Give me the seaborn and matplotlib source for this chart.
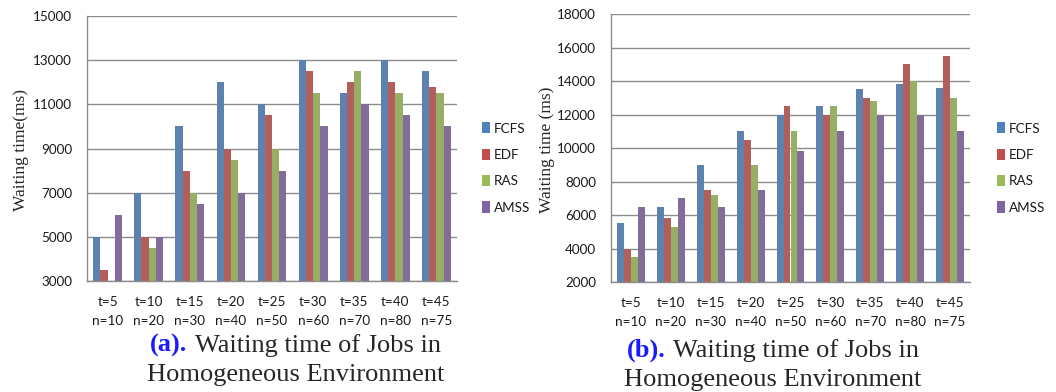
"""Waiting time of jobs: two grouped bar charts side by side."""

import pandas as pd
import matplotlib
matplotlib.use('Agg')
import matplotlib.pyplot as plt
from matplotlib.patches import Patch
import seaborn as sns

# categories
groups = ['t=5\nn=10', 't=10\nn=20', 't=15\nn=30', 't=20\nn=40', 't=25\nn=50',
          't=30\nn=60', 't=35\nn=70', 't=40\nn=80', 't=45\nn=75']
algs = ['FCFS', 'EDF', 'RAS', 'AMSS']
colors = ['#4F81BD', '#C0504D', '#9BBB59', '#8064A2']

# panel (a)
a_fcfs = [5000, 7000, 10000, 12000, 11000, 13000, 11500, 13000, 12500]
a_edf = [3500, 5000, 8000, 9000, 10500, 12500, 12000, 12000, 11800]
a_ras = [3000, 4500, 7000, 8500, 9000, 11500, 12500, 11500, 11500]
a_amss = [6000, 5000, 6500, 7000, 8000, 10000, 11000, 10500, 10000]

# panel (b)
b_fcfs = [5500, 6500, 9000, 11000, 12000, 12500, 13500, 13800, 13600]
b_edf = [4000, 5800, 7500, 10500, 12500, 12000, 13000, 15000, 15500]
b_ras = [3500, 5300, 7200, 9000, 11000, 12500, 12800, 14000, 13000]
b_amss = [6500, 7000, 6500, 7500, 9800, 11000, 12000, 12000, 11000]

a_ticks = [3000, 5000, 7000, 9000, 11000, 13000, 15000]
b_ticks = [2000, 4000, 6000, 8000, 10000, 12000, 14000, 16000, 18000]

TICK_FONT = 'Lato'
SERIF = 'Liberation Serif'
GRID = '#8c8c8c'
TXT = '#1a1a1a'


def to_long(series):
    rows = []
    for alg, vals in zip(algs, series):
        for g, v in zip(groups, vals):
            rows.append({'group': g, 'alg': alg, 'value': v})
    return pd.DataFrame(rows)


def draw_panel(fig, rect, df, yticks, ylabel, label_x, legend_x):
    ax = fig.add_axes(rect)
    sns.barplot(data=df, x='group', y='value', hue='alg', order=groups,
                hue_order=algs, palette=colors, width=0.7, linewidth=0,
                errorbar=None, legend=False, ax=ax, zorder=2)
    ax.set_ylim(yticks[0], yticks[-1])
    ax.set_xlim(-0.5, len(groups) - 0.5)
    ax.set_yticks(yticks)
    ax.set_yticklabels([str(t) for t in yticks])
    ax.yaxis.grid(True, color=GRID, lw=1, zorder=0)
    ax.set_axisbelow(True)
    for s in ['top', 'right']:
        ax.spines[s].set_visible(False)
    for s in ['left', 'bottom']:
        ax.spines[s].set_color(GRID)
        ax.spines[s].set_linewidth(1)
    ax.set_xlabel('')
    ax.set_ylabel('')
    ax.tick_params(axis='y', length=3.6, color=GRID, pad=7, labelsize=9.7,
                   labelcolor=TXT)
    ax.tick_params(axis='x', which='major', length=0, pad=11, labelsize=9.7,
                   labelcolor=TXT)
    ax.set_xticks([i - 0.5 for i in range(len(groups) + 1)], minor=True)
    ax.tick_params(axis='x', which='minor', length=3.6, color=GRID)
    for lbl in ax.get_xticklabels() + ax.get_yticklabels():
        lbl.set_fontfamily(TICK_FONT)
    for lbl in ax.get_xticklabels():
        lbl.set_linespacing(1.65)
    fig.text(label_x, 1 - 150 / 392, ylabel, rotation=90, ha='center',
             va='center', family=SERIF, fontsize=12.5)
    handles = [Patch(facecolor=c, edgecolor='none', label=a)
               for c, a in zip(colors, algs)]
    fig.legend(handles=handles, loc='center left',
               bbox_to_anchor=(legend_x, 1 - 168 / 392), frameon=False,
               prop={'family': TICK_FONT, 'size': 9.7}, handlelength=0.6,
               handleheight=0.9, handletextpad=0.3, labelspacing=1.05,
               borderpad=0, borderaxespad=0, labelcolor=TXT)
    return ax


sns.set_style('white')
plt.rcParams['font.family'] = ['DejaVu Sans']

fig = plt.figure(figsize=(10.56, 3.92), dpi=100)
W, H = 1056, 392

draw_panel(fig, [87 / W, (H - 281) / H, (457 - 87) / W, (281 - 16) / H],
           to_long([a_fcfs, a_edf, a_ras, a_amss]), a_ticks,
           'Waiting time(ms)', 21 / W, 482 / W)
draw_panel(fig, [611 / W, (H - 282) / H, (970 - 611) / W, (282 - 14) / H],
           to_long([b_fcfs, b_edf, b_ras, b_amss]), b_ticks,
           'Waiting time (ms)', 547 / W, 997 / W)

# captions
cap = 19
fig.text(150 / W, 1 - 352 / H, '(a).', color='#1a1aff', fontweight='bold',
         family=SERIF, fontsize=cap, va='baseline', ha='left')
fig.text(195 / W, 1 - 352 / H, 'Waiting time of Jobs in', family=SERIF,
         fontsize=cap, va='baseline', ha='left')
fig.text(296 / W, 1 - 381 / H, 'Homogeneous Environment', family=SERIF,
         fontsize=cap, va='baseline', ha='center')
fig.text(627 / W, 1 - 357 / H, '(b).', color='#1a1aff', fontweight='bold',
         family=SERIF, fontsize=cap, va='baseline', ha='left')
fig.text(673 / W, 1 - 357 / H, 'Waiting time of Jobs in', family=SERIF,
         fontsize=cap, va='baseline', ha='left')
fig.text(773 / W, 1 - 386 / H, 'Homogeneous Environment', family=SERIF,
         fontsize=cap, va='baseline', ha='center')

fig.savefig('out.png', dpi=100)
plt.close(fig)
